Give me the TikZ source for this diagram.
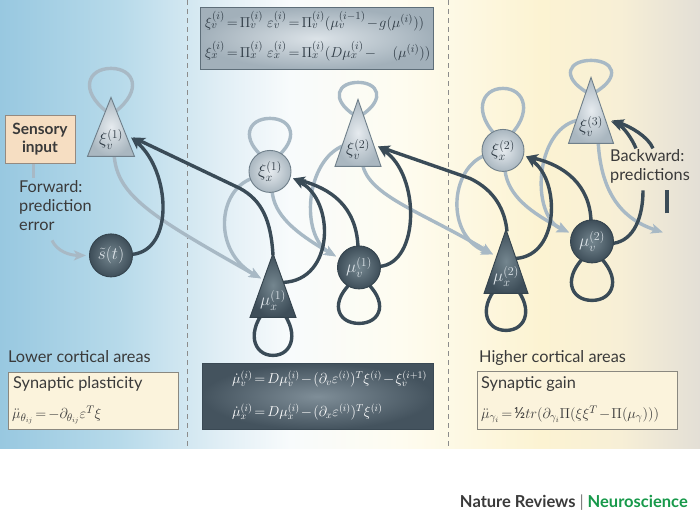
\documentclass[tikz,border=0pt]{standalone}
\usepackage{fontspec}
\setmainfont{Lato}
\usetikzlibrary{arrows.meta,calc}
\definecolor{lightc}{HTML}{A8B9C5}
\definecolor{darkc}{HTML}{3A4B57}
\definecolor{xibord}{HTML}{6F7F8A}
\definecolor{xiin}{HTML}{E6EBEF}
\definecolor{xiout}{HTML}{AAB7C0}
\definecolor{mubord}{HTML}{34434D}
\definecolor{muin}{HTML}{74868F}
\definecolor{muout}{HTML}{3E4E59}
\definecolor{xitext}{HTML}{2E3A44}
\definecolor{mutext}{HTML}{DCE3E8}
\definecolor{textc}{HTML}{3A3A3A}
\definecolor{sensfill}{HTML}{F6DEC2}
\definecolor{sensbord}{HTML}{958A80}
\definecolor{boxfill}{HTML}{FBF3DC}
\definecolor{boxbord}{HTML}{8A8880}
\definecolor{topin}{HTML}{DCE3E8}
\definecolor{topout}{HTML}{A2B0BA}
\definecolor{topbord}{HTML}{5E6E79}
\definecolor{botin}{HTML}{7F8E98}
\definecolor{botout}{HTML}{44535E}
\definecolor{botbord}{HTML}{3A4954}
\definecolor{nrgreen}{HTML}{17994A}
\definecolor{bg0}{HTML}{98C8E0}
\definecolor{bg1}{HTML}{B7DAEA}
\definecolor{bg2}{HTML}{E0EEF5}
\definecolor{bg3}{HTML}{F8FBFC}
\definecolor{bg4}{HTML}{FEFCF0}
\definecolor{bg5}{HTML}{FCF3D2}
\definecolor{bg6}{HTML}{F7EFD6}
\definecolor{bg7}{HTML}{E3DFD6}
\pgfdeclarehorizontalshading{bgshade}{100bp}{color(0bp)=(bg0); color(25bp)=(bg0); color(33.57bp)=(bg1); color(40.71bp)=(bg2); color(45.71bp)=(bg3); color(53.57bp)=(bg4); color(63.57bp)=(bg5); color(69.29bp)=(bg6); color(75bp)=(bg7); color(100bp)=(bg7)}
\pgfdeclarelayer{bglayer}
\pgfdeclarelayer{connlayer}
\pgfsetlayers{bglayer,connlayer,main}
\newcommand\labfont{\fontsize{17}{17}\selectfont}
\newcommand\txtfont{\fontsize{16.3}{19}\selectfont}
\newcommand\eqspacing{\medmuskip=1.5mu\thickmuskip=2.5mu\thinmuskip=2mu}
\newcommand\eqfont{\fontsize{14}{14}\selectfont\eqspacing}
\newcommand\topeqfont{\fontsize{15.3}{15.3}\selectfont\eqspacing}
\newcommand\mytri[6]{%
  \path[#1] (#3,#4) -- ({#3+#6},#5) -- ({#3-#6},#5) -- cycle;
  \coordinate (#2) at (#3,{(#4+#5)/2});}
\newcommand\selfloop[5]{%
  \draw[#1] ($(#2)+(-4,#3)$) .. controls ($(#2)+({-1.4*#5},{(#3)+0.5*((#4)-(#3))})$) and ($(#2)+({-#5},#4)$) .. ($(#2)+(0,#4)$)
    .. controls ($(#2)+(#5,#4)$) and ($(#2)+({1.4*#5},{(#3)+0.5*((#4)-(#3))})$) .. ($(#2)+(4,#3)$);}
\begin{document}
\begin{tikzpicture}[x=1pt,y=-1pt,
  lightl/.style={draw=lightc, line width=3.4pt},
  lightarr/.style={lightl, -{Stealth[length=12pt,width=10pt,inset=3pt]}},
  darkl/.style={draw=darkc, line width=3.4pt},
  darkarr/.style={darkl, -{Stealth[length=12pt,width=10pt,inset=3pt]}},
  xishape/.style={draw=xibord, line width=0.9pt, inner color=xiin, outer color=xiout},
  mushape/.style={draw=mubord, line width=0.9pt, inner color=muin, outer color=muout},
  xicirc/.style={xishape, circle, minimum size=42, inner sep=0, text=xitext, font=\labfont},
  mucirc/.style={mushape, circle, minimum size=43, inner sep=0, text=mutext, font=\labfont},
  xilab/.style={inner sep=0, text=xitext, font=\labfont},
  mulab/.style={inner sep=0, text=mutext, font=\labfont},
  txt/.style={inner sep=0, text=textc, font=\txtfont},
  dashline/.style={draw=black!45, line width=0.8pt, dash pattern=on 5pt off 4pt},
  synbox/.style={draw=boxbord, line width=0.9pt, fill=boxfill, inner sep=0, anchor=north west},
]
\begin{pgfonlayer}{bglayer}
  \fill[white] (0,0) rectangle (700,511);
  \shade[shading=bgshade] (0,0) rectangle (700,448);
  \draw[dashline] (187,0) -- (187,448);
  \draw[dashline] (448,0) -- (448,448);
\end{pgfonlayer}
\useasboundingbox (0,0) rectangle (700,511);

% equation boxes
\node[draw=topbord, line width=1pt, inner color=topin, outer color=topout, minimum width=233, minimum height=62, inner sep=0] (topbox) at (316.5,38) {};
\node[anchor=base west, inner sep=0, text=xitext, font=\topeqfont] (topeq1) at (205,27) {$\xi_v^{(i)} = \Pi_v^{(i)}\;\;\varepsilon_v^{(i)} = \Pi_v^{(i)}(\mu_v^{(i-1)} - g(\mu^{(i)}))$};
\node[anchor=base west, inner sep=0, text=xitext, font=\topeqfont] (topeq2) at (205,57) {$\xi_x^{(i)} = \Pi_x^{(i)}\;\;\varepsilon_x^{(i)} = \Pi_x^{(i)}(D\mu_x^{(i)} - \quad(\mu^{(i)}))$};

\node[draw=botbord, line width=1pt, inner color=botin, outer color=botout, minimum width=231, minimum height=66, inner sep=0] (botbox) at (317.5,396) {};
\node[anchor=base west, inner sep=0, text=white, font=\eqfont] (boteq1) at (232,383) {$\dot\mu_v^{(i)} = D\mu_v^{(i)} - (\partial_v\varepsilon^{(i)})^T\xi^{(i)} - \xi_v^{(i+1)}$};
\node[anchor=base west, inner sep=0, text=white, font=\eqfont] (boteq2) at (232,416) {$\dot\mu_x^{(i)} = D\mu_x^{(i)} - (\partial_x\varepsilon^{(i)})^T\xi^{(i)}$};

% lower / higher areas
\node[txt, anchor=base west] (lower) at (8,362) {Lower cortical areas};
\node[synbox, minimum width=170, minimum height=57] (plastbox) at (8,372) {};
\node[txt, anchor=base west] (plasttxt) at (13,388) {Synaptic plasticity};
\node[inner sep=0, anchor=base west, text=textc, font=\fontsize{15}{15}\selectfont\eqspacing] (plasteq) at (12,418) {$\ddot\mu_{\theta_{ij}} = -\partial_{\theta_{ij}}\varepsilon^T\xi$};

\node[txt, anchor=base west] (higher) at (479,362) {Higher cortical areas};
\node[synbox, minimum width=200, minimum height=58] (gainbox) at (477,371) {};
\node[txt, anchor=base west] (gaintxt) at (481,388) {Synaptic gain};
\node[inner sep=0, anchor=base west, text=textc, font=\fontsize{15.3}{15.3}\selectfont\eqspacing] (gaineq) at (481,418) {$\ddot\mu_{\gamma_i} = \mbox{½}tr(\partial_{\gamma_i}\Pi(\xi\xi^T - \Pi(\mu_\gamma)))$};

% sensory input and texts
\node[draw=sensbord, fill=sensfill, line width=0.9pt, minimum width=70, minimum height=48, inner sep=0, align=center, font=\bfseries\fontsize{15.5}{18}\selectfont, text=textc] (sens) at (40,139) {Sensory\\input};
\node[txt, anchor=north west, align=left] (fwdtxt) at (19,180) {Forward:\\prediction\\error};
\node[txt, anchor=north west, align=left] (bwdtxt) at (610,149) {Backward:\\predictions};

\node[inner sep=0, anchor=base east, font=\bfseries\fontsize{16.5}{16.5}\selectfont] (nrtxt) at (688,507) {\textcolor{textc}{Nature Reviews} {\color{black!50}\mdseries|} \textcolor{nrgreen}{Neuroscience}};

% triangle nodes
\mytri{xishape}{xv1}{111}{97}{156}{23.5}
\mytri{xishape}{xv2}{358}{99}{166}{23}
\mytri{mushape}{mx1}{273}{253}{317}{23}
\mytri{xishape}{xv3}{591}{77}{143}{22.5}
\mytri{mushape}{mx2}{506}{229}{293}{22}
\node[xilab] (xv1t) at ($(xv1)+(0,12.5)$) {$\xi_v^{(1)}$};
\node[xilab] (xv2t) at ($(xv2)+(0,16.5)$) {$\xi_v^{(2)}$};
\node[mulab] (mx1t) at ($(mx1)+(0,15)$) {$\mu_x^{(1)}$};
\node[xilab] (xv3t) at ($(xv3)+(0,16)$) {$\xi_v^{(3)}$};
\node[mulab] (mx2t) at ($(mx2)+(0,15)$) {$\mu_x^{(2)}$};

% circle nodes
\node[mucirc] (st) at (111,255) {$\tilde{s}(t)$};
\node[xicirc] (xx1) at (270,171) {$\xi_x^{(1)}$};
\node[mucirc] (mv1) at (359,267) {$\mu_v^{(1)}$};
\node[xicirc] (xx2) at (503,150) {$\xi_x^{(2)}$};
\node[mucirc] (mv2) at (592,241) {$\mu_v^{(2)}$};

\coordinate (fwdend) at (663,232);
\coordinate (errstart) at (52,240);
\coordinate (bk1) at (643,190);
\coordinate (bk2) at (636,148);
\coordinate (bk3) at (667,213);
\coordinate (bk4) at (667,190);
\coordinate (bk5) at (653,148);

\begin{pgfonlayer}{connlayer}
  % self loops
  \selfloop{lightl}{xv1}{-15}{-58.5}{23}
  \selfloop{lightl}{xx1}{-12}{-53}{22}
  \selfloop{lightl}{xv2}{-18}{-50.5}{20}
  \selfloop{lightl}{xx2}{-12}{-62}{22}
  \selfloop{lightl}{xv3}{-18}{-50}{22}
  \selfloop{darkl}{mx1}{20}{70}{20}
  \selfloop{darkl}{mv1}{12}{56}{22}
  \selfloop{darkl}{mx2}{20}{69}{21}
  \selfloop{darkl}{mv2}{12}{59}{22}
  % forward (light) connectors
  \draw[lightl, line width=3pt] ($(sens.south)+(-7,0)$) -- ($(sens.south)+(-7,14)$);
  \draw[lightarr, line width=3pt] (errstart) .. controls +(5,11) and +(-16,0) .. ($(st)+(-25,0)$);
  \draw[lightarr] ($(xv1)+(3,23)$) .. controls +(0,45) and +(-111,-63) .. ($(mx1)+(-12,-7)$);
  \draw[lightarr] ($(xx1)+(-18,7)$) .. controls +(-34,12) and +(-49,-28) .. ($(mx1)+(-12,-7)$);
  \draw[lightarr] ($(xx1)+(2,19)$) .. controls +(2,25) and +(-41,-24) .. ($(mv1)+(-23,-11)$);
  \draw[lightarr] ($(xv2)+(-14,12.5)$) .. controls +(-39,15) and +(-36,-21) .. ($(mv1)+(-23,-11)$);
  \draw[lightarr] ($(xv2)+(4,27)$) .. controls +(2,35) and +(-73,-44) .. ($(mx2)+(-13,-7)$);
  \draw[lightarr] ($(xx2)+(-18,5)$) .. controls +(-35,13) and +(-48,-19) .. ($(mx2)+(-13,-7)$);
  \draw[lightarr] ($(xx2)+(2,20)$) .. controls +(3,25) and +(-39,-20) .. ($(mv2)+(-23,-9)$);
  \draw[lightarr] ($(xv3)+(-14,10)$) .. controls +(-42,10) and +(-39,-17) .. ($(mv2)+(-23,-9)$);
  \draw[lightarr] ($(xv3)+(7,28)$) .. controls +(2,52) and +(-43,-14) .. (fwdend);
  % backward (dark) connectors
  \draw[darkarr] ($(st)+(21,-1)$) .. controls +(43,-4) and +(39,33) .. ($(xv1)+(20,10.5)$);
  \draw[darkarr] ($(mx1)+(0,-30)$) .. controls +(-2,-35) and +(22,12) .. ($(mx1)+(-33,-97)$) -- ($(xv1)+(22,10.5)$);
  \draw[darkarr] ($(mx1)+(10,-3)$) .. controls +(52,-2) and +(42,22) .. ($(xx1)+(23,7)$);
  \draw[darkarr] ($(mv1)+(-1,-21)$) .. controls +(-2,-41) and +(37,10) .. ($(xx1)+(23,7)$);
  \draw[darkarr] ($(mv1)+(21,-1)$) .. controls +(40,-4) and +(42,29) .. ($(xv2)+(20,13.5)$);
  \draw[darkarr] ($(mx2)+(1,-30)$) .. controls +(-2,-21) and +(25,12) .. ($(mx2)+(-36,-83)$) -- ($(xv2)+(20,13.5)$);
  \draw[darkarr] ($(mx2)+(10,-3)$) .. controls +(44,-3) and +(34,24) .. ($(xx2)+(23,6)$);
  \draw[darkarr] ($(mv2)+(-1,-20)$) .. controls +(-1,-36) and +(39,9) .. ($(xx2)+(23,6)$);
  \draw[darkl] ($(mv2)+(21,2)$) .. controls +(22,-3) and +(0,25) .. (bk1);
  \draw[darkarr] (bk2) .. controls +(-4,-10) and +(12,5) .. ($(xv3)+(20,11)$);
  \draw[darkl] (bk3) -- (bk4);
  \draw[darkarr] (bk5) .. controls +(-5,-12) and +(18,6) .. ($(xv3)+(21,10)$);
\end{pgfonlayer}
\end{tikzpicture}
\end{document}
